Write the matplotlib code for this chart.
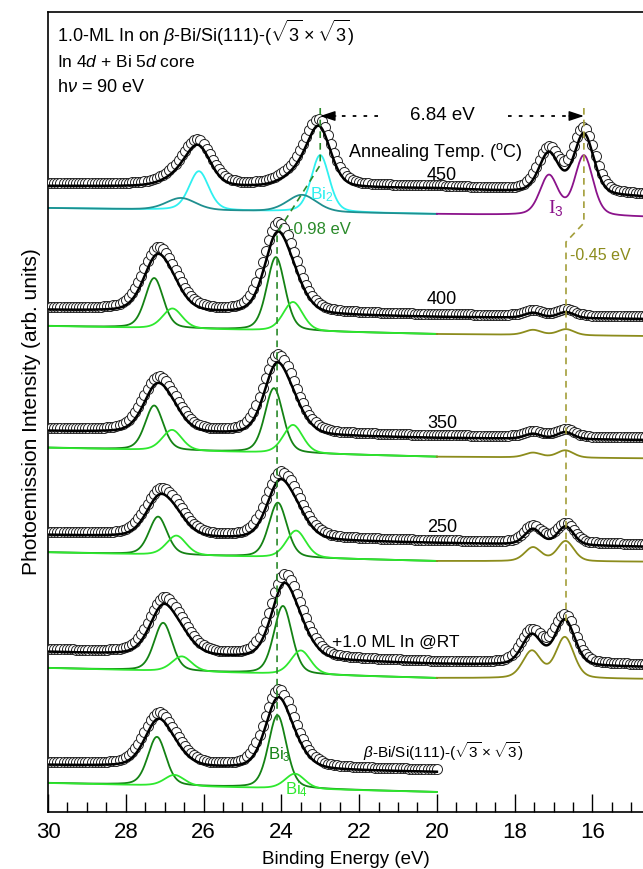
import numpy as np
import matplotlib.pyplot as plt
from matplotlib.ticker import MultipleLocator

plt.rcParams['font.family'] = ['Liberation Sans', 'DejaVu Sans']
plt.rcParams['mathtext.fontset'] = 'custom'
plt.rcParams['mathtext.rm'] = 'Liberation Sans'
plt.rcParams['mathtext.it'] = 'Liberation Sans:italic'
plt.rcParams['mathtext.bf'] = 'Liberation Sans:bold'

# spectra, from bottom to top
labels = [r'$\beta$-Bi/Si(111)-($\sqrt{3}\times\sqrt{3}$)', '+1.0 ML In @RT', '250', '350', '400', '450']
e_last = [20.0, 14.5, 14.5, 14.5, 14.5, 14.5]

# background level of the fit curve at 30, 20 and 14.7 eV
fit_bg = [(47, 40, 40), (160, 148, 145), (277, 269, 265.3),
          (381, 374, 372), (502, 495, 493), (626, 623.5, 615)]
# background level of the fitted components at 30, 20 and 14.7 eV
comp_bg = [(29, 20, 20), (144, 134, 133), (259.7, 251, 250.3),
           (364.3, 355.3, 353.7), (486, 478, 476), (604, 598, 595)]

# peaks of the fit envelope: (centre eV, height, fwhm eV)
fit_peaks = [
    [(27.18, 44, 0.8), (26.7, 10, 0.8), (24.1, 65, 0.75), (23.65, 15, 0.8)],
    [(27.05, 46, 0.8), (26.55, 14, 0.8), (23.95, 67, 0.75), (23.5, 20, 0.8),
     (17.56, 30, 0.6), (16.71, 45.5, 0.6)],
    [(27.15, 36, 0.8), (26.7, 15, 0.8), (24.07, 50, 0.75), (23.62, 22, 0.8),
     (17.53, 15.5, 0.5), (16.69, 18.5, 0.5)],
    [(27.22, 42, 0.8), (26.8, 15, 0.8), (24.14, 62, 0.75), (23.7, 22, 0.8),
     (17.53, 5, 0.5), (16.7, 7, 0.5)],
    [(27.22, 49, 0.8), (26.8, 17, 0.8), (24.13, 70, 0.75), (23.7, 25, 0.8),
     (17.53, 5, 0.5), (16.68, 6, 0.5)],
    [(26.13, 36, 0.75), (26.58, 10, 1.0), (23.02, 53, 0.7), (23.47, 15, 1.0),
     (17.12, 39.5, 0.6), (16.22, 60, 0.6)],
]

# Bi 5d components (first and second), In 4d component
bi_a = [
    [(27.2, 48.5, 0.55), (24.1, 73, 0.55)],
    [(27.04, 48, 0.55), (23.96, 68, 0.55)],
    [(27.17, 38, 0.55), (24.09, 54.7, 0.55)],
    [(27.27, 44.5, 0.55), (24.19, 64.7, 0.55)],
    [(27.27, 50, 0.55), (24.14, 73.5, 0.55)],
    [(26.12, 39, 0.6), (23.0, 57, 0.55)],
]
bi_b = [
    [(26.75, 11, 0.6), (23.65, 15, 0.6)],
    [(26.56, 15, 0.6), (23.5, 24, 0.6)],
    [(26.7, 19.5, 0.6), (23.62, 27.2, 0.6)],
    [(26.81, 20.6, 0.6), (23.7, 28.4, 0.6)],
    [(26.8, 20, 0.6), (23.7, 29, 0.6)],
    [(26.58, 12, 0.9), (23.47, 17, 0.9)],
]
in_4d = [
    [],
    [(17.56, 27, 0.55), (16.71, 41, 0.55)],
    [(17.53, 13.8, 0.5), (16.69, 20.2, 0.5)],
    [(17.53, 4.7, 0.5), (16.7, 7.3, 0.5)],
    [(17.53, 5, 0.5), (16.68, 6, 0.5)],
    [(17.12, 39.5, 0.55), (16.22, 60, 0.55)],
]
col_a = ['#148214'] * 5 + ['#2ff0f0']
col_b = ['#2ee82e'] * 5 + ['#1f8f8f']
col_in = ['#8c8c1c'] * 5 + ['#8b138b']

# data points sit slightly above and are slightly broader than the fit
data_lift = 2.5
data_scale = 1.06
data_wfac = 1.1


def pvoigt(e, peaks, wfac=1.0, eta=0.3):
    y = np.zeros_like(e)
    for c, h, w in peaks:
        x = (e - c) / (w * wfac / 2)
        y += h * ((1 - eta) * np.exp(-np.log(2) * x ** 2) + eta / (1 + x ** 2))
    return y


def background(e, knots):
    return np.interp(e, [14.7, 20.0, 30.0], [knots[2], knots[1], knots[0]])


fig = plt.figure(figsize=(6.43, 8.69), dpi=100)
ax = fig.add_axes([48 / 643, 57 / 869, 595 / 643, 800 / 869])

for i in range(len(labels)):
    e_fine = np.arange(30.0, e_last[i] - 1e-6, -0.02)
    e_pts = np.arange(30.0, e_last[i] - 1e-6, -0.08)
    e_bi = e_fine[e_fine >= 20.0]
    e_in = np.arange(20.0, 14.5, -0.02)

    ax.plot(e_bi, background(e_bi, comp_bg[i]) + pvoigt(e_bi, bi_a[i]), color=col_a[i], lw=1.3, zorder=2)
    ax.plot(e_bi, background(e_bi, comp_bg[i]) + pvoigt(e_bi, bi_b[i]), color=col_b[i], lw=1.3, zorder=2)
    if in_4d[i]:
        ax.plot(e_in, background(e_in, comp_bg[i]) + pvoigt(e_in, in_4d[i]), color=col_in[i], lw=1.3, zorder=2)

    data = background(e_pts, fit_bg[i]) + data_lift + data_scale * pvoigt(e_pts, fit_peaks[i], data_wfac)
    ax.plot(e_pts, data, 'o', ms=7.2, mfc='white', mec='#222222', mew=0.7, zorder=3)
    ax.plot(e_fine, background(e_fine, fit_bg[i]) + pvoigt(e_fine, fit_peaks[i]), color='black', lw=1.8, zorder=4)

# guide lines for the core level shifts
ax.plot([23.0, 23.0, 24.11, 24.11], [704, 647, 579, 89], color='#2a8a2a', lw=1.2, ls=(0, (4, 3)), zorder=5)
ax.plot([16.22, 16.22, 16.68, 16.68], [704, 589, 570, 187], color='#a39e3a', lw=1.2, ls=(0, (4, 3)), zorder=5)

# 6.84 eV arrow
ax.plot([21.52, 22.6], [696, 696], color='black', lw=1.3, ls=(0, (2, 4)))
ax.plot([18.17, 16.6], [696, 696], color='black', lw=1.3, ls=(0, (2, 4)))
arrow = dict(arrowstyle='-|>,head_length=0.9,head_width=0.3', color='black', lw=1, shrinkA=0, shrinkB=0)
ax.annotate('', xy=(23.0, 696), xytext=(22.6, 696), arrowprops=arrow, zorder=6)
ax.annotate('', xy=(16.22, 696), xytext=(16.6, 696), arrowprops=arrow, zorder=6)
ax.text(19.87, 697, '6.84 eV', fontsize=13.5, ha='center', va='center')

# text
ax.text(29.77, 779, r'1.0-ML In on $\beta$-Bi/Si(111)-($\sqrt{3}\times\sqrt{3}$)', fontsize=13, va='center')
ax.text(29.77, 750, r'In 4$d$ + Bi 5$d$ core', fontsize=12.5, va='center')
ax.text(29.77, 724, r'h$\nu$ = 90 eV', fontsize=13, va='center')
ax.text(20.05, 660, r'Annealing Temp. ($^\mathrm{o}$C)', fontsize=13, ha='center', va='center')
ax.text(19.87, 637, labels[5], fontsize=13, ha='center', va='center')
ax.text(19.87, 512, labels[4], fontsize=13, ha='center', va='center')
ax.text(19.87, 389, labels[3], fontsize=13, ha='center', va='center')
ax.text(19.87, 284, labels[2], fontsize=13, ha='center', va='center')
ax.text(22.7, 170, labels[1], fontsize=12.5, va='center')
ax.text(21.9, 60, labels[0], fontsize=11, va='center')
ax.text(23.83, 582, '-0.98 eV', fontsize=12, color='#2a8a2a', va='center')
ax.text(16.58, 557, '-0.45 eV', fontsize=11.5, color='#8c8c1c', va='center')
ax.text(23.26, 617, r'Bi$_2$', fontsize=12.5, color='#2ff0f0', va='center')
ax.text(17.15, 604, r'I$_3$', fontsize=14, color='#8b138b', va='center', family='Liberation Serif')
ax.text(24.35, 57, r'Bi$_3$', fontsize=12, color='#148214', va='center')
ax.text(23.9, 22, r'Bi$_4$', fontsize=12, color='#2ee82e', va='center')

ax.set_xlim(30, 14.7)
ax.set_ylim(0, 800)
ax.set_yticks([])
ax.set_xticks(np.arange(16, 31, 2))
ax.xaxis.set_minor_locator(MultipleLocator(0.5))
ax.tick_params(axis='x', which='major', direction='in', length=13, width=1, labelsize=16, pad=7)
ax.tick_params(axis='x', which='minor', direction='in', length=7, width=1)
ax.spines['right'].set_visible(False)
for s in ['left', 'top', 'bottom']:
    ax.spines[s].set_linewidth(1.2)
ax.set_xlabel('Binding Energy (eV)', fontsize=13.5, labelpad=6)
ax.set_ylabel('Photoemission Intensity (arb. units)', fontsize=15, labelpad=5)

fig.savefig('out.png', dpi=100)
